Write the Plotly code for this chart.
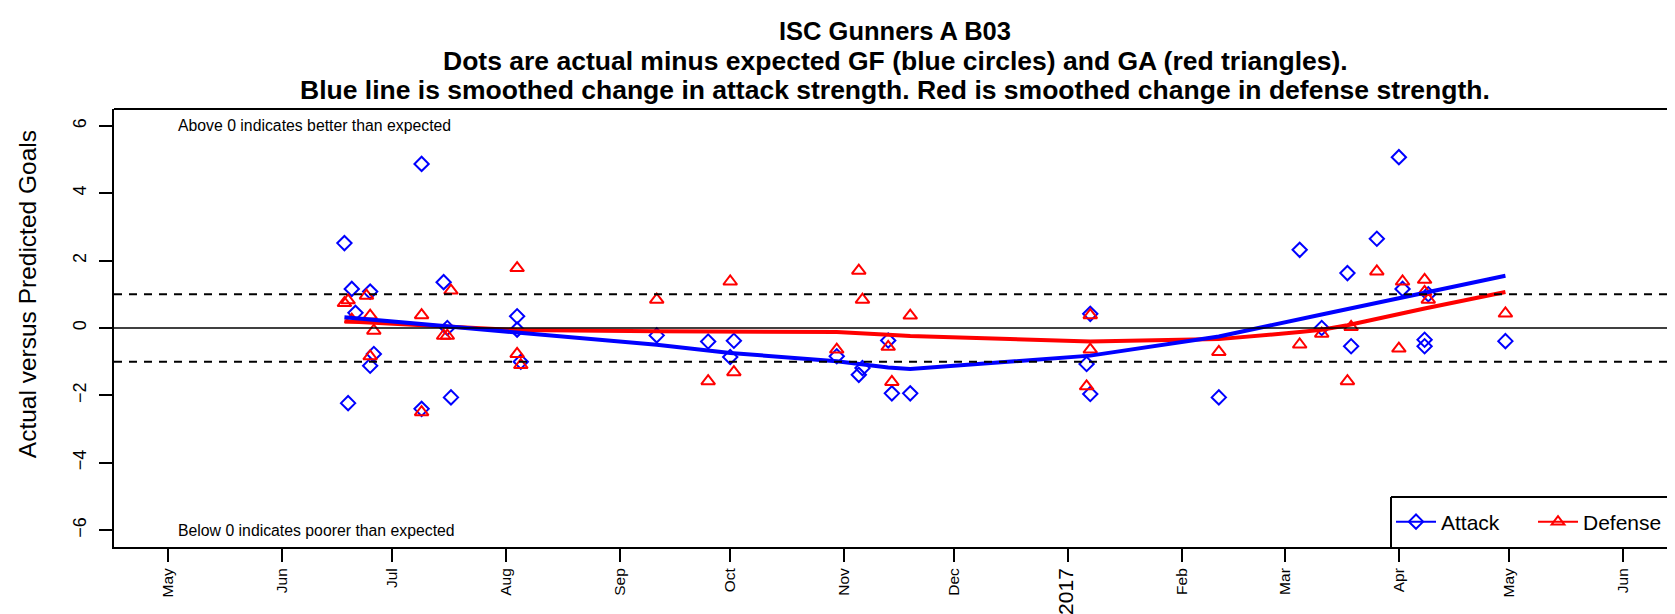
import plotly.graph_objects as go

# ---------------- data ----------------
ATTACK_DATES = [
    "2016-06-18", "2016-06-19", "2016-06-20", "2016-06-21", "2016-06-25", "2016-06-25", "2016-06-26",
    "2016-07-09", "2016-07-09", "2016-07-15", "2016-07-16", "2016-07-17",
    "2016-08-04", "2016-08-04", "2016-08-05",
    "2016-09-11", "2016-09-25", "2016-10-01", "2016-10-02", "2016-10-30",
    "2016-11-05", "2016-11-06", "2016-11-13", "2016-11-14", "2016-11-19",
    "2017-01-06", "2017-01-07", "2017-01-07", "2017-02-11",
    "2017-03-05", "2017-03-11", "2017-03-18", "2017-03-19", "2017-03-26",
    "2017-04-01", "2017-04-02", "2017-04-08", "2017-04-08", "2017-04-09", "2017-04-30",
]
ATTACK_VALUES = [
    2.52, -2.23, 1.16, 0.45, 1.08, -1.12, -0.77,
    4.87, -2.40, 1.36, 0.00, -2.06,
    0.35, -0.05, -1.00,
    -0.22, -0.40, -0.86, -0.38, -0.84,
    -1.39, -1.19, -0.37, -1.94, -1.94,
    -1.07, 0.42, -1.96, -2.06,
    2.32, 0.00, 1.63, -0.54, 2.65,
    5.07, 1.16, -0.35, -0.54, 1.00, -0.39,
]
DEFENSE_DATES = [
    "2016-06-18", "2016-06-19", "2016-06-20", "2016-06-24", "2016-06-25", "2016-06-25", "2016-06-26",
    "2016-07-09", "2016-07-09", "2016-07-15", "2016-07-16", "2016-07-17",
    "2016-08-04", "2016-08-04", "2016-08-05",
    "2016-09-11", "2016-09-25", "2016-10-01", "2016-10-02", "2016-10-30",
    "2016-11-05", "2016-11-06", "2016-11-13", "2016-11-14", "2016-11-19",
    "2017-01-06", "2017-01-07", "2017-01-07", "2017-02-11",
    "2017-03-05", "2017-03-11", "2017-03-18", "2017-03-19", "2017-03-26",
    "2017-04-01", "2017-04-02", "2017-04-08", "2017-04-08", "2017-04-09", "2017-04-30",
]
DEFENSE_VALUES = [
    0.74, 0.82, 0.25, 0.96, 0.37, -0.84, -0.08,
    0.38, -2.50, -0.23, -0.23, 1.11,
    1.78, -0.77, -1.10,
    0.84, -1.58, 1.38, -1.31, -0.64,
    1.70, 0.84, -0.56, -1.60, 0.37,
    -1.73, 0.38, -0.64, -0.71,
    -0.49, -0.17, -1.58, 0.03, 1.68,
    -0.61, 1.38, 1.43, 1.07, 0.84, 0.43,
]

ATTACK_SMOOTH_DATES = ["2016-06-18", "2016-07-09", "2016-08-04", "2016-09-11", "2016-10-01",
                       "2016-10-30", "2016-11-13", "2016-11-19", "2017-01-07", "2017-02-11",
                       "2017-03-11", "2017-04-01", "2017-04-08", "2017-04-30"]
ATTACK_SMOOTH = [0.32, 0.12, -0.12, -0.50, -0.74, -0.99, -1.17, -1.22, -0.82, -0.25,
                 0.40, 0.88, 1.05, 1.55]
DEFENSE_SMOOTH_DATES = ["2016-06-18", "2016-07-09", "2016-08-04", "2016-09-11", "2016-10-01",
                        "2016-10-30", "2016-11-13", "2016-11-19", "2017-01-07", "2017-02-11",
                        "2017-03-05", "2017-03-11", "2017-03-18", "2017-03-26", "2017-04-01",
                        "2017-04-08", "2017-04-30"]
DEFENSE_SMOOTH = [0.20, 0.08, -0.06, -0.10, -0.10, -0.12, -0.20, -0.24, -0.40, -0.33,
                  -0.12, -0.05, 0.08, 0.28, 0.43, 0.58, 1.07]

REF_SOLID = [0]
REF_DASHED = [-1, 1]

MONTH_TICKS = ["2016-05-01", "2016-06-01", "2016-07-01", "2016-08-01", "2016-09-01",
               "2016-10-01", "2016-11-01", "2016-12-01", "2017-01-01", "2017-02-01",
               "2017-03-01", "2017-04-01", "2017-05-01", "2017-06-01"]
MONTH_LABELS = ["May", "Jun", "Jul", "Aug", "Sep", "Oct", "Nov", "Dec",
                '<span style="font-size:21px">2017</span>', "Feb", "Mar", "Apr", "May", "Jun"]
Y_TICKS = [-6, -4, -2, 0, 2, 4, 6]

TITLE_LINES = [
    "ISC Gunners A B03",
    "Dots are actual minus expected GF (blue circles) and GA (red triangles).",
    "Blue line is smoothed change in attack strength. Red is smoothed change in defense strength.",
]

# ---------------- figure ----------------
FONT = "Liberation Sans, Arial, sans-serif"
BLUE = "#0000FF"
RED = "#FF0000"

fig = go.Figure()

fig.add_trace(go.Scatter(x=ATTACK_DATES, y=ATTACK_VALUES, mode="markers", showlegend=False,
                         marker=dict(symbol="diamond-open", size=11, color=BLUE,
                                     line=dict(width=2, color=BLUE))))
fig.add_trace(go.Scatter(x=DEFENSE_DATES, y=DEFENSE_VALUES, mode="markers", showlegend=False,
                         marker=dict(symbol="triangle-up-open", size=12, color=RED,
                                     line=dict(width=2, color=RED))))
fig.add_trace(go.Scatter(x=DEFENSE_SMOOTH_DATES, y=DEFENSE_SMOOTH, mode="lines", showlegend=False,
                         line=dict(color=RED, width=4)))
fig.add_trace(go.Scatter(x=ATTACK_SMOOTH_DATES, y=ATTACK_SMOOTH, mode="lines", showlegend=False,
                         line=dict(color=BLUE, width=4)))

# legend-only entries
fig.add_trace(go.Scatter(x=[None], y=[None], mode="lines+markers", name="Attack",
                         line=dict(color=BLUE, width=2),
                         marker=dict(symbol="diamond-open", size=11, color=BLUE,
                                     line=dict(width=2, color=BLUE))))
fig.add_trace(go.Scatter(x=[None], y=[None], mode="lines+markers", name="Defense",
                         line=dict(color=RED, width=2),
                         marker=dict(symbol="triangle-up-open", size=11, color=RED,
                                     line=dict(width=2, color=RED))))

for v in REF_SOLID:
    fig.add_hline(y=v, line=dict(color="black", width=1.5))
for v in REF_DASHED:
    fig.add_hline(y=v, line=dict(color="black", width=2, dash="8px,7px"))

# top border of the box
fig.add_shape(type="line", xref="paper", yref="paper", x0=0, x1=1, y0=1, y1=1,
              line=dict(color="black", width=2))
# legend box (top + left edge)
LEG_X = 0.8139
LEG_Y = 0.1142
fig.add_shape(type="line", xref="paper", yref="paper", x0=LEG_X, x1=1, y0=LEG_Y, y1=LEG_Y,
              line=dict(color="black", width=2))
fig.add_shape(type="line", xref="paper", yref="paper", x0=LEG_X, x1=LEG_X, y0=0, y1=LEG_Y,
              line=dict(color="black", width=2))

# title lines
for txt, shift, size in zip(TITLE_LINES, [78, 48, 19], [25.5, 26.5, 26.5]):
    fig.add_annotation(text="<b>%s</b>" % txt, xref="paper", yref="paper", x=0.498, y=1,
                       xanchor="center", yanchor="middle", yshift=shift, showarrow=False,
                       font=dict(family=FONT, size=size, color="black"))

fig.add_annotation(text="Above 0 indicates better than expected", xref="paper", yref="y",
                   x=0.0395, y=6, xanchor="left", yanchor="middle", showarrow=False,
                   font=dict(family=FONT, size=15.8, color="black"))
fig.add_annotation(text="Below 0 indicates poorer than expected", xref="paper", yref="y",
                   x=0.0395, y=-6, xanchor="left", yanchor="middle", showarrow=False,
                   font=dict(family=FONT, size=15.8, color="black"))
fig.add_annotation(text="Actual versus Predicted Goals", xref="paper", yref="paper",
                   x=-0.0555, y=0.577, xanchor="center", yanchor="middle", textangle=-90,
                   showarrow=False, font=dict(family=FONT, size=24.5, color="black"))

fig.update_layout(
    width=1675, height=614,
    margin=dict(l=106, r=0, t=101, b=75, pad=0, autoexpand=False),
    paper_bgcolor="white", plot_bgcolor="white",
    font=dict(family=FONT, color="black"),
    showlegend=True,
    legend=dict(orientation="h", x=LEG_X, xanchor="left", y=LEG_Y / 2, yanchor="middle",
                bgcolor="rgba(0,0,0,0)", borderwidth=0, font=dict(size=21, color="black"),
                itemwidth=40, entrywidth=87, entrywidthmode="pixels"),
    xaxis=dict(type="date", range=["2016-04-16 06:43", "2017-06-17 08:00"],
               tickvals=MONTH_TICKS, ticktext=MONTH_LABELS, tickangle=-90,
               tickfont=dict(size=15.5, color="black"), ticks="outside", ticklen=13,
               tickwidth=2, tickcolor="black", showgrid=False, zeroline=False,
               showline=True, linecolor="black", linewidth=2, ticklabelstandoff=0),
    yaxis=dict(range=[-6.5, 6.5], tickvals=Y_TICKS, tickangle=-90,
               tickfont=dict(size=18, color="black"), ticks="outside", ticklen=13,
               tickwidth=2, tickcolor="black", showgrid=False, zeroline=False,
               showline=True, linecolor="black", linewidth=2, ticklabelstandoff=6),
)

fig.write_html("out.html")
